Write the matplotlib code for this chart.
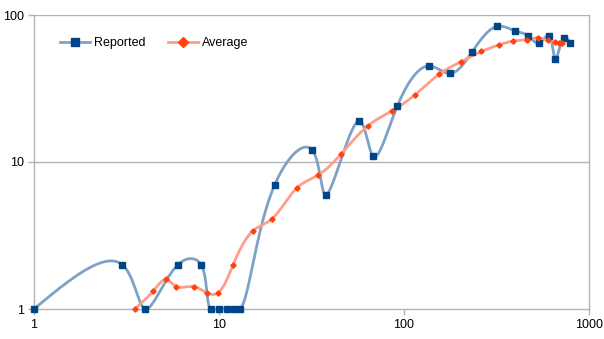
import numpy as np
import matplotlib
matplotlib.use("Agg")
import matplotlib.pyplot as plt
from matplotlib.lines import Line2D

# Reported series
reported_x = [1, 3, 4, 6, 8, 9, 10, 11, 12, 13, 20, 32, 38, 57, 68, 92, 137,
              177, 233, 318, 398, 470, 537, 608, 658, 730, 793]
reported_y = [1, 2, 1, 2, 2, 1, 1, 1, 1, 1, 7, 12, 6, 19, 11, 24, 45,
              40, 56, 83.6, 78, 72, 64.5, 72.5, 50, 69.7, 64.5]

# Running average series
average_x = [3.5, 4.42, 5.17, 5.89, 7.3, 8.58, 9.84, 11.9, 15.3, 19.4, 26.4,
             34.3, 45.9, 63.7, 86.1, 115, 155, 203, 262, 325, 390, 461, 533,
             598, 655, 686, 718]
average_y = [1.0, 1.33, 1.59, 1.42, 1.42, 1.285, 1.285, 1.99, 3.41, 4.12, 6.67,
             8.13, 11.4, 17.6, 22.3, 28.7, 39.6, 48.1, 56.5, 62.5, 66.5, 67.9,
             70.0, 67.1, 65.5, 64.5, 64.1]

x_ticks = [1, 10, 100, 1000]
x_tick_labels = ["1", "10", "100", "1000"]
y_ticks = [1, 10, 100]
y_tick_labels = ["1", "10", "100"]

BLUE_MARK = "#004586"
BLUE_LINE = "#7ea1c8"
ORANGE_MARK = "#ff420e"
ORANGE_LINE = "#ff9e88"
GRID = "#b3b3b3"

plt.rcParams["font.family"] = ["Liberation Sans", "DejaVu Sans"]


def natural_spline_coeffs(t, v):
    n = len(t) - 1
    h = np.diff(t)
    A = np.zeros((n + 1, n + 1))
    b = np.zeros(n + 1)
    A[0, 0] = 1.0
    A[n, n] = 1.0
    for i in range(1, n):
        A[i, i - 1] = h[i - 1]
        A[i, i] = 2 * (h[i - 1] + h[i])
        A[i, i + 1] = h[i]
        b[i] = 3 * ((v[i + 1] - v[i]) / h[i] - (v[i] - v[i - 1]) / h[i - 1])
    return np.linalg.solve(A, b)


def eval_spline(t, v, c, tt):
    h = np.diff(t)
    out = np.empty_like(tt)
    idx = np.clip(np.searchsorted(t, tt, side="right") - 1, 0, len(t) - 2)
    for k, (i, x) in enumerate(zip(idx, tt)):
        bi = (v[i + 1] - v[i]) / h[i] - h[i] * (2 * c[i] + c[i + 1]) / 3
        di = (c[i + 1] - c[i]) / (3 * h[i])
        dx = x - t[i]
        out[k] = v[i] + bi * dx + c[i] * dx ** 2 + di * dx ** 3
    return out


def smooth_curve(xs, ys, sx=185.0, sy=147.0, per_seg=40):
    """Parametric centripetal cubic spline through the points in log space."""
    px = np.log10(np.asarray(xs, float)) * sx
    py = np.log10(np.asarray(ys, float)) * sy
    d = np.sqrt(np.hypot(np.diff(px), np.diff(py)))
    t = np.concatenate([[0.0], np.cumsum(d)])
    cx = natural_spline_coeffs(t, px)
    cy = natural_spline_coeffs(t, py)
    tt = np.concatenate([np.linspace(t[i], t[i + 1], per_seg, endpoint=False)
                         for i in range(len(t) - 1)] + [[t[-1]]])
    qx = eval_spline(t, px, cx, tt)
    qy = eval_spline(t, py, cy, tt)
    return 10 ** (qx / sx), 10 ** (qy / sy)


fig = plt.figure(figsize=(6.04, 3.39), dpi=100)
ax = fig.add_axes([34 / 604, 30 / 339, 555 / 604, 294 / 339])
ax.set_xscale("log")
ax.set_yscale("log")
ax.set_xlim(1, 1000)
ax.set_ylim(1, 100)

for v in [10, 100]:
    ax.axhline(v, color=GRID, lw=1.0, zorder=1)

rx, ry = smooth_curve(reported_x, reported_y)
ax.plot(rx, ry, color=BLUE_LINE, lw=2.0, zorder=2, solid_capstyle="round")
avx, avy = smooth_curve(average_x, average_y)
ax.plot(avx, avy, color=ORANGE_LINE, lw=2.0, zorder=2, solid_capstyle="round")

ax.plot(reported_x, reported_y, ls="none", marker="s", ms=5, color=BLUE_MARK,
        mec=BLUE_MARK, zorder=4, clip_on=False)
ax.plot(average_x, average_y, ls="none", marker="D", ms=2.7, color=ORANGE_MARK,
        mec=ORANGE_MARK, zorder=4, clip_on=False)

for side in ["left", "right", "bottom"]:
    ax.spines[side].set_color(GRID)
    ax.spines[side].set_linewidth(1.0)
ax.spines["top"].set_visible(False)

ax.set_xticks(x_ticks)
ax.set_xticklabels(x_tick_labels)
ax.set_yticks(y_ticks)
ax.set_yticklabels(y_tick_labels)
ax.minorticks_off()
ax.tick_params(axis="both", which="major", length=4, width=1.0, color=GRID,
               labelsize=9, labelcolor="#000000", pad=3)

handles = [
    Line2D([], [], color=BLUE_LINE, lw=2.0, marker="s", ms=6,
           mfc=BLUE_MARK, mec=BLUE_MARK),
    Line2D([], [], color=ORANGE_LINE, lw=2.0, marker="D", ms=5,
           mfc=ORANGE_MARK, mec=ORANGE_MARK),
]
ax.legend(handles, ["Reported", "Average"], loc="center left",
          bbox_to_anchor=(26 / 555, 266 / 294), ncol=2, frameon=False,
          fontsize=9, handlelength=2.4, handletextpad=0.3,
          columnspacing=1.85, borderpad=0, borderaxespad=0)

fig.savefig("out.png", dpi=100)
